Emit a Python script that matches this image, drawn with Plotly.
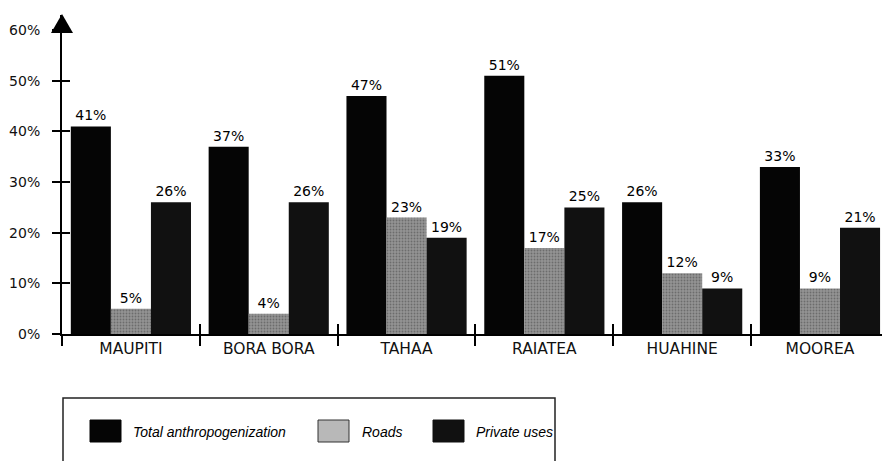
import plotly.graph_objects as go

islands = ["MAUPITI", "BORA BORA", "TAHAA", "RAIATEA", "HUAHINE", "MOOREA"]
total_anthropogenization = [41, 37, 47, 51, 26, 33]
roads = [5, 4, 23, 17, 12, 9]
private_uses = [26, 26, 19, 25, 9, 21]
y_ticks = [0, 10, 20, 30, 40, 50, 60]
y_tick_labels = ["0%", "10%", "20%", "30%", "40%", "50%", "60%"]
legend_names = ["Total anthropogenization", "Roads", "Private uses"]

FONT = "DejaVu Sans, Liberation Sans, Arial, sans-serif"
LFONT = "Liberation Sans, Arial, sans-serif"
lab_font = dict(family=FONT, size=14, color="#000")

fig = go.Figure()
fig.add_trace(go.Bar(
    x=islands, y=total_anthropogenization, name=legend_names[0],
    marker=dict(color="#050505", line=dict(width=0)),
    text=[f"{v}%" for v in total_anthropogenization], textposition="outside",
    textfont=lab_font, cliponaxis=False, showlegend=False))
fig.add_trace(go.Bar(
    x=islands, y=roads, name=legend_names[1],
    marker=dict(color="#8c8c8c", line=dict(width=0),
                pattern=dict(shape=".", fgcolor="#444444", bgcolor="#949494",
                             size=3, solidity=0.3)),
    text=[f"{v}%" for v in roads], textposition="outside",
    textfont=lab_font, cliponaxis=False, showlegend=False))
fig.add_trace(go.Bar(
    x=islands, y=private_uses, name=legend_names[2],
    marker=dict(color="#111111", line=dict(width=0)),
    text=[f"{v}%" for v in private_uses], textposition="outside",
    textfont=lab_font, cliponaxis=False, showlegend=False))

# invisible trace to carry inside ticks on overlay axes
fig.add_trace(go.Scatter(x=islands[:1], y=[None], xaxis="x2", yaxis="y2",
                         showlegend=False, hoverinfo="skip"))

W, H = 882, 461
L, R, T, B = 62, 0, 15, 127
pw, ph = W - L - R, H - T - B

def px(xp):
    return (xp - L) / pw

def py(yp):
    return (H - B - yp) / ph

fig.update_layout(
    width=W, height=H,
    margin=dict(l=L, r=R, t=T, b=B, autoexpand=False),
    paper_bgcolor="white", plot_bgcolor="white",
    barmode="group", bargap=0.128, bargroupgap=0,
    showlegend=False,
    font=dict(family=FONT, color="#000"),
    xaxis=dict(type="category", range=[-0.5, 5.45], showgrid=False,
               showline=True, linecolor="#000", linewidth=1.5,
               ticks="outside", ticklen=10, tickwidth=1.5, tickcolor="#000",
               tickson="boundaries", automargin=False,
               tickfont=dict(family=FONT, size=15.5, color="#111")),
    yaxis=dict(range=[0, 63], tickvals=y_ticks, ticktext=y_tick_labels,
               showgrid=False, zeroline=False, automargin=False,
               showline=True, linecolor="#000", linewidth=2,
               ticks="outside", ticklen=8, tickwidth=1.5, tickcolor="#000",
               ticklabelstandoff=9,
               tickfont=dict(family=FONT, size=14, color="#111")),
    xaxis2=dict(type="category", categoryarray=islands, range=[-0.5, 5.45],
                overlaying="x", showgrid=False, showline=False, automargin=False,
                ticks="inside", ticklen=10, tickwidth=1.5, tickcolor="#000",
                tickson="boundaries", showticklabels=False),
    yaxis2=dict(range=[0, 63], tickvals=y_ticks, overlaying="y", automargin=False,
                showgrid=False, zeroline=False, showline=False,
                ticks="inside", ticklen=8, tickwidth=1.5, tickcolor="#000",
                showticklabels=False),
)

shapes = []
# arrow head on y axis
shapes.append(dict(type="path", xref="paper", yref="paper",
                   path=f"M {px(L-11)} {py(33)} L {px(L+11)} {py(33)} L {px(L)} {py(14)} Z",
                   fillcolor="#000", line=dict(width=0), layer="above"))
# legend box
shapes.append(dict(type="rect", xref="paper", yref="paper",
                   x0=px(63), x1=px(555), y0=py(398), y1=py(475),
                   line=dict(color="#222", width=1.5), fillcolor="rgba(0,0,0,0)"))
swatches = [(90, 121, "#050505", None), (318, 349, "#b8b8b8", "#333"), (433, 464, "#111111", None)]
for x0, x1, c, lc in swatches:
    shapes.append(dict(type="rect", xref="paper", yref="paper",
                       x0=px(x0), x1=px(x1), y0=py(442), y1=py(420),
                       fillcolor=c, line=dict(color=lc or c, width=1)))
fig.update_layout(shapes=shapes)

text_x = [131, 360, 474]
for name, tx in zip(legend_names, text_x):
    fig.add_annotation(xref="paper", yref="paper", x=px(tx), y=py(432),
                       text=name, showarrow=False, xanchor="left", yanchor="middle",
                       font=dict(family=LFONT, size=14, color="#000", style="italic"))

fig.write_html("out.html", config={"displayModeBar": False})

# remove the default page margin so the figure sits at the window origin
with open("out.html", "r", encoding="utf-8") as f:
    html = f.read()
html = html.replace("<head>", "<head><style>html,body{margin:0;padding:0;overflow:hidden;}</style>", 1)
with open("out.html", "w", encoding="utf-8") as f:
    f.write(html)
